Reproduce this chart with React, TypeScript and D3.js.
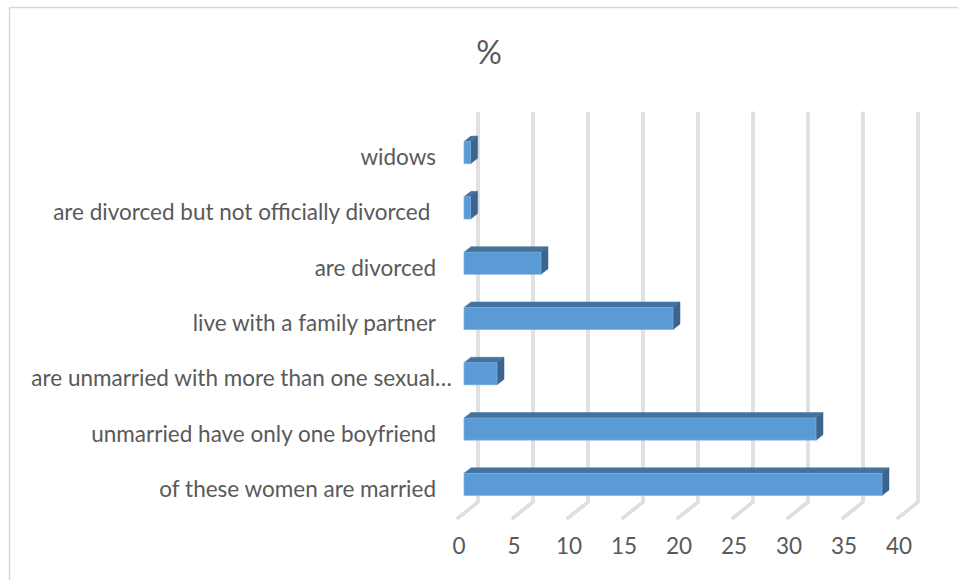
import React from "react";
import * as d3 from "d3";

const categories = [
  "widows",
  "are divorced but not officially divorced ",
  "are divorced",
  "live with a family partner",
  "are unmarried with more than one sexual…",
  "unmarried have only one boyfriend",
  "of these women are married",
];
const values = [0.6, 0.6, 7, 19, 3, 32, 38];
const ticks = [0, 5, 10, 15, 20, 25, 30, 35, 40];
const title = "%";

const W = 958;
const H = 580;
const FONT = "Lato, 'Open Sans', sans-serif";
const TEXT = "#595959";

export default function App() {
  const depthX = 20;
  const depthY = 16;
  const wallTop = 113;
  const wallBottom = 502;
  const xBack = d3.scaleLinear().domain([0, 40]).range([478, 918]);
  const xFront = d3.scaleLinear().domain([0, 40]).range([458, 898]);
  const xBar = d3.scaleLinear().domain([0, 40]).range([464, 904]);
  const y = d3
    .scaleBand<string>()
    .domain(categories)
    .range([125, 512])
    .paddingInner(0.6)
    .paddingOuter(0.3);
  const bw = y.bandwidth();
  const bdx = 7;
  const bdy = 5.5;

  return (
    <svg
      width={W}
      height={H}
      style={{ position: "absolute", left: 0, top: 0, background: "#fff" }}
    >
      <rect x={9.5} y={7.5} width={W + 10} height={H + 10} fill="#fff" stroke="#d9d9d9" strokeWidth={1.5} />
      <text x={489} y={64} textAnchor="middle" fontFamily={FONT} fontSize={32} fill={TEXT}>
        {title}
      </text>
      {ticks.map((t) => {
        const bx = xBack(t);
        const p = `M${bx},${wallTop} L${bx},${wallBottom} L${bx - depthX},${wallBottom + depthY}`;
        return (
          <g key={t}>
            <path d={p} fill="none" stroke="#cdcdcd" strokeWidth={3.2} strokeLinejoin="round" strokeLinecap="round" />
            <path d={p} fill="none" stroke="#ececec" strokeWidth={1.3} strokeLinejoin="round" strokeLinecap="round" />
            <text
              x={xFront(t) + 1}
              y={554}
              textAnchor="middle"
              fontFamily={FONT}
              fontSize={22.5}
              fill={TEXT}
            >
              {t}
            </text>
          </g>
        );
      })}
      {categories.map((c, i) => {
        const v = values[i];
        const y0 = y(c) as number;
        const x0 = xBar(0);
        const x1 = xBar(v);
        const top = `M${x0},${y0} L${x1},${y0} L${x1 + bdx},${y0 - bdy} L${x0 + bdx},${y0 - bdy} Z`;
        const side = `M${x1},${y0} L${x1 + bdx},${y0 - bdy} L${x1 + bdx},${y0 + bw - bdy} L${x1},${y0 + bw} Z`;
        const truncated = c.endsWith("…");
        return (
          <g key={c}>
            <path d={top} fill="#44729f" stroke="#44729f" strokeWidth={0.5} />
            <path d={side} fill="#3b648e" stroke="#3b648e" strokeWidth={0.5} />
            <rect x={x0} y={y0} width={x1 - x0} height={bw} fill="#5b9bd5" stroke="#7eb0df" strokeWidth={0.7} />
            <text
              x={truncated ? 452 : 436}
              y={y0 + bw / 2 + 12.5}
              textAnchor="end"
              fontFamily={FONT}
              fontSize={22.5}
              fill={TEXT}
              style={{ whiteSpace: "pre" }}
            >
              {c}
            </text>
          </g>
        );
      })}
    </svg>
  );
}
